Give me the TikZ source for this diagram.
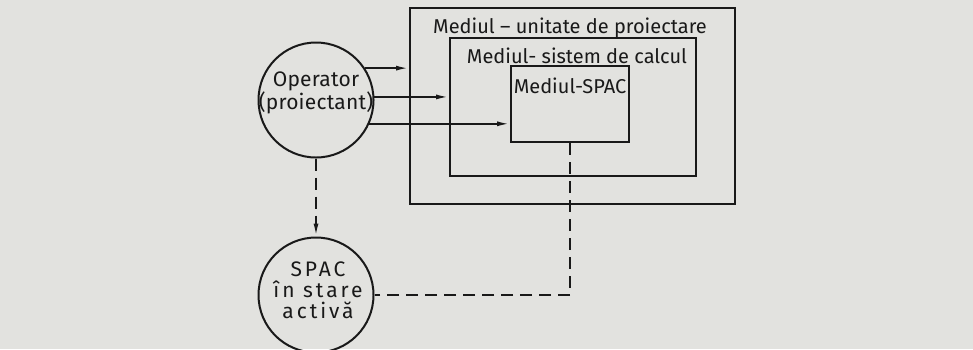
\documentclass[tikz,border=0pt]{standalone}
\usepackage{fontspec}
\setmainfont{Fira Sans}
\usepackage{tikz}
\usetikzlibrary{arrows.meta,positioning}
\definecolor{paper}{RGB}{226,226,223}
\definecolor{ink}{RGB}{25,25,25}

\tikzset{
    envbox/.style={draw=ink,line width=2pt,minimum width=#1},
    envlabel/.style={font=\fontsize{20}{22}\selectfont,text=ink,inner sep=0pt},
    actor/.style={draw=ink,line width=2pt,circle,minimum size=115pt,inner sep=0pt},
    actortext/.style={align=center,text=ink,inner sep=0pt},
    flow/.style={draw=ink,line width=1.9pt,->},
    link/.style={draw=ink,line width=1.9pt,dash pattern=on 12pt off 7pt}
}

\begin{document}
\begin{tikzpicture}[x=1pt,y=-1pt,>={Latex[length=13pt,width=5pt]}]
    % page
    \fill[paper] (0,0) rectangle (973,349);
    \useasboundingbox (0,0) rectangle (973,349);

    % nested environments
    \node[envbox=325pt,minimum height=196pt] (unit) at (572.5,106) {};
    \node[envbox=246pt,minimum height=138pt] (calc) at (573,107) {};
    \node[envbox=118pt,minimum height=76pt] (spacenv) at (570,104) {};
    \node[envlabel] (unitlbl) at (570,28) {Mediul -- unitate de proiectare};
    \node[envlabel] (calclbl) at (577,56) {Mediul- sistem de calcul};
    \node[envlabel] (spaclbl) at (570,86) {Mediul-SPAC};

    % operator and active system
    \node[actor] (op) at (316,100) {};
    \node[actortext,font=\fontsize{21}{21}\selectfont\addfontfeature{LetterSpace=1}]
        (optext) at (316,93) {Operator\\(proiectant)};
    \node[actor] (spac) at (316,295) {};
    \node[actortext,font=\fontsize{21}{21}\selectfont\addfontfeature{LetterSpace=14}]
        (spactext) at (318,290) {SPAC\\în stare\\activă};

    % interactions
    \draw[flow] (op.33) -- (op.33 -| unit.west);
    \draw[flow] (op.3) -- (op.3 -| calc.west);
    \draw[flow] (op.-24) -- (op.-24 -| spacenv.west);
    \draw[link,->] (op.south) -- (spac.north);
    \draw[link] (spacenv.south) -- (spacenv.south |- spac.east) -- (spac.east);
\end{tikzpicture}
\end{document}
